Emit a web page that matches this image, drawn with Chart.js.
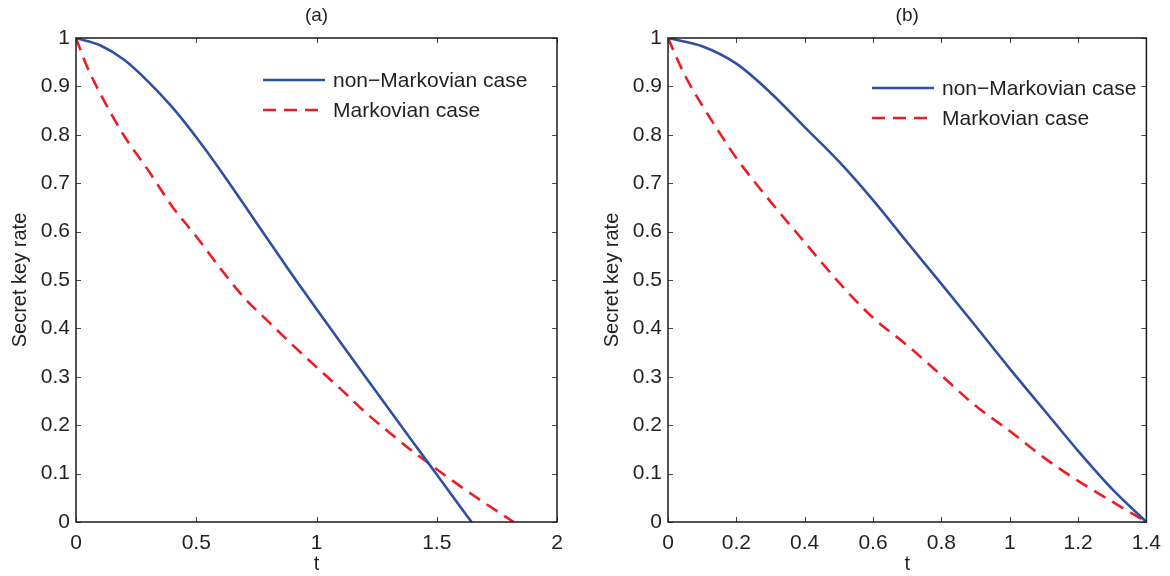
<!DOCTYPE html>
<html>
<head>
<meta charset="utf-8">
<script src="https://cdn.jsdelivr.net/npm/chart.js@4.4.1/dist/chart.umd.min.js"></script>
<style>
	html, body { margin: 0; padding: 0; background: #fff; }
	#painel { width: 1170px; height: 576px; display: flex; }
	canvas { display: block; }
</style>
</head>
<body>
<div id="painel">
	<canvas id="graficoA" width="585" height="576"></canvas>
	<canvas id="graficoB" width="585" height="576"></canvas>
</div>
<script>
var legendas = ['non\u2212Markovian case', 'Markovian case'];
var titulos = ['(a)', '(b)'];
var tituloY = 'Secret key rate';
var tituloX = 't';

var ticksY = [0, 0.1, 0.2, 0.3, 0.4, 0.5, 0.6, 0.7, 0.8, 0.9, 1];
var ticksXA = [0, 0.5, 1, 1.5, 2];
var ticksXB = [0, 0.2, 0.4, 0.6, 0.8, 1, 1.2, 1.4];

// (a)
var tA_naoMarkov = [0, 0.1, 0.2, 0.3, 0.4, 0.5, 0.6, 0.7, 0.8, 0.9, 1.0, 1.1, 1.2, 1.3, 1.4, 1.5, 1.6, 1.645];
var vA_naoMarkov = [1, 0.985, 0.955, 0.91, 0.857, 0.795, 0.727, 0.655, 0.582, 0.51, 0.44, 0.371, 0.302, 0.234, 0.166, 0.098, 0.03, 0];
var tA_markov = [0, 0.04, 0.1, 0.2, 0.3, 0.4, 0.5, 0.6, 0.7, 0.8, 0.9, 1.0, 1.1, 1.2, 1.3, 1.4, 1.5, 1.6, 1.7, 1.82];
var vA_markov = [1, 0.948, 0.886, 0.798, 0.727, 0.652, 0.59, 0.524, 0.463, 0.414, 0.366, 0.32, 0.275, 0.228, 0.186, 0.146, 0.109, 0.073, 0.039, 0];

// (b)
var tB_naoMarkov = [0, 0.1, 0.2, 0.3, 0.4, 0.5, 0.6, 0.7, 0.8, 0.9, 1.0, 1.1, 1.2, 1.3, 1.4];
var vB_naoMarkov = [1, 0.983, 0.947, 0.887, 0.816, 0.745, 0.665, 0.578, 0.492, 0.405, 0.317, 0.232, 0.147, 0.068, 0];
var tB_markov = [0, 0.05, 0.1, 0.15, 0.2, 0.3, 0.4, 0.5, 0.6, 0.7, 0.8, 0.9, 1.0, 1.1, 1.2, 1.3, 1.4];
var vB_markov = [1, 0.922, 0.861, 0.805, 0.752, 0.662, 0.578, 0.495, 0.422, 0.365, 0.303, 0.24, 0.188, 0.133, 0.085, 0.042, 0];

var FONTE = "'Liberation Sans', Arial, Helvetica, sans-serif";
var COR_TEXTO = '#231f20';
var AZUL = '#2e4fa3';
var VERMELHO = '#ed1c24';

function pontos(ts, vs) {
	return ts.map(function(t, i) { return { x: t, y: vs[i] }; });
}

function fixarTicks(lista) {
	return function(escala) {
		escala.ticks = lista.map(function(v) { return { value: v }; });
	};
}

var molduraMatlab = {
	id: 'molduraMatlab',
	afterDraw: function(chart, args, opts) {
		var ctx = chart.ctx;
		var a = chart.chartArea;
		var x = chart.scales.x, y = chart.scales.y;
		ctx.save();
		ctx.strokeStyle = '#4a4a4a';
		ctx.lineWidth = 1;
		x.ticks.forEach(function(t) {
			var px = Math.round(x.getPixelForValue(t.value)) + 0.5;
			ctx.beginPath();
			ctx.moveTo(px, a.bottom); ctx.lineTo(px, a.bottom - 5);
			ctx.moveTo(px, a.top); ctx.lineTo(px, a.top + 5);
			ctx.stroke();
		});
		y.ticks.forEach(function(t) {
			var py = Math.round(y.getPixelForValue(t.value)) + 0.5;
			ctx.beginPath();
			ctx.moveTo(a.left, py); ctx.lineTo(a.left + 5, py);
			ctx.moveTo(a.right, py); ctx.lineTo(a.right - 5, py);
			ctx.stroke();
		});
		ctx.strokeStyle = '#1a1a1a';
		ctx.lineWidth = 1.5;
		ctx.strokeRect(a.left, a.top, a.right - a.left, a.bottom - a.top);

		ctx.fillStyle = COR_TEXTO;
		ctx.font = '19px ' + FONTE;
		ctx.textAlign = 'center';
		ctx.textBaseline = 'middle';
		ctx.fillText(opts.titulo, (a.left + a.right) / 2, 16);

		ctx.textAlign = 'left';
		ctx.font = '21px ' + FONTE;
		chart.data.datasets.forEach(function(ds, i) {
			var ly = a.top + opts.legY + i * 30;
			var lx = a.left + opts.legX;
			ctx.strokeStyle = ds.borderColor;
			ctx.lineWidth = ds.borderWidth;
			ctx.setLineDash(ds.borderDash || []);
			ctx.beginPath();
			ctx.moveTo(lx, ly); ctx.lineTo(lx + 62, ly);
			ctx.stroke();
			ctx.setLineDash([]);
			ctx.fillText(ds.label, lx + 70, ly + 1);
		});
		ctx.restore();
	}
};

function criarGrafico(id, cfg) {
	var ctx = document.getElementById(id).getContext('2d');
	return new Chart(ctx, {
		type: 'line',
		data: {
			datasets: [{
				label: legendas[0],
				data: pontos(cfg.t1, cfg.v1),
				borderColor: AZUL,
				borderWidth: 2.6,
				pointRadius: 0,
				cubicInterpolationMode: 'monotone'
			}, {
				label: legendas[1],
				data: pontos(cfg.t2, cfg.v2),
				borderColor: VERMELHO,
				borderWidth: 2.6,
				borderDash: [13, 8],
				pointRadius: 0,
				cubicInterpolationMode: 'monotone'
			}]
		},
		options: {
			responsive: false,
			animation: false,
			events: [],
			layout: { padding: { top: 38, right: cfg.dir, left: 0, bottom: 0 } },
			plugins: {
				legend: { display: false },
				tooltip: { enabled: false },
				molduraMatlab: { titulo: cfg.titulo, legX: cfg.legX, legY: cfg.legY }
			},
			scales: {
				x: {
					type: 'linear',
					min: cfg.ticksX[0],
					max: cfg.ticksX[cfg.ticksX.length - 1],
					afterBuildTicks: fixarTicks(cfg.ticksX),
					afterFit: function(s) { s.height = 54; },
					grid: { display: false, drawTicks: false },
					border: { display: false },
					ticks: {
						color: COR_TEXTO, padding: 9, maxRotation: 0,
						font: { family: FONTE, size: 21 },
						callback: function(v) { return String(+v.toFixed(2)); }
					},
					title: {
						display: true, text: tituloX, color: COR_TEXTO,
						font: { family: FONTE, size: 20 },
						padding: { top: 0, bottom: 0 }
					}
				},
				y: {
					min: 0, max: 1,
					afterBuildTicks: fixarTicks(ticksY),
					afterFit: function(s) { s.width = cfg.esq; },
					grid: { display: false, drawTicks: false },
					border: { display: false },
					ticks: {
						color: COR_TEXTO, padding: 6,
						font: { family: FONTE, size: 21 },
						callback: function(v) { return String(+v.toFixed(2)); }
					},
					title: {
						display: true, text: tituloY, color: COR_TEXTO,
						font: { family: FONTE, size: 20 },
						padding: { top: cfg.padTitY, bottom: 0 }
					}
				}
			}
		},
		plugins: [molduraMatlab]
	});
}

criarGrafico('graficoA', {
	t1: tA_naoMarkov, v1: vA_naoMarkov, t2: tA_markov, v2: vA_markov,
	ticksX: ticksXA, titulo: titulos[0],
	esq: 76, dir: 28, padTitY: 8, legX: 187, legY: 42
});

criarGrafico('graficoB', {
	t1: tB_naoMarkov, v1: vB_naoMarkov, t2: tB_markov, v2: vB_markov,
	ticksX: ticksXB, titulo: titulos[1],
	esq: 83, dir: 22, padTitY: 15, legX: 204, legY: 50
});
</script>
</body>
</html>
